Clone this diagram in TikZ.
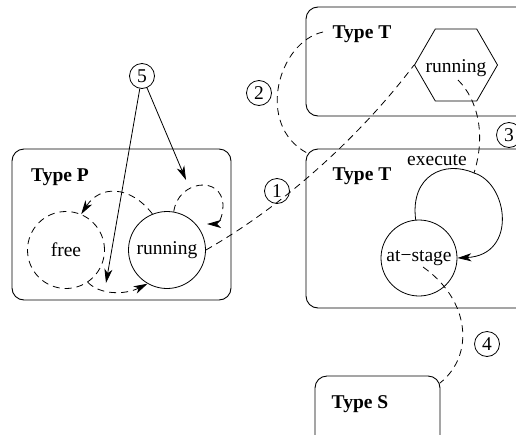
\documentclass[tikz,border=0pt]{standalone}
\usepackage{fontspec}
\setmainfont{Liberation Serif}
\usetikzlibrary{arrows.meta,shapes.geometric}
\begin{document}
\begin{tikzpicture}[x=1pt,y=-1pt,
  every node/.style={font=\fontsize{19.5}{23}\selectfont},
  box/.style={draw, rectangle, rounded corners=12pt, line width=0.9pt, inner sep=0pt},
  title/.style={font=\fontsize{19.5}{23}\selectfont\bfseries, inner sep=0pt},
  state/.style={draw, circle, minimum size=77pt, inner sep=0pt, line width=0.8pt},
  ghost/.style={state, dash pattern=on 7pt off 5pt},
  flow/.style={dash pattern=on 7pt off 5pt, line width=0.8pt},
  link/.style={line width=0.8pt},
  tip/.style={-{Stealth[length=14pt,width=8pt,inset=4pt]}},
  num/.style={draw, circle, minimum size=25pt, inner sep=0pt, line width=0.8pt}
]
\useasboundingbox (0,0) rectangle (516,434);
\clip (0,0) rectangle (516,434);

% containers
\node[box, minimum width=219pt, minimum height=151pt] (boxP) at (121.5,224.5) {};
\node[box, minimum width=234pt, minimum height=109pt] (boxT1) at (423,61.5) {};
\node[box, minimum width=234pt, minimum height=159pt] (boxT2) at (423,228.5) {};
\node[box, minimum width=125pt, minimum height=94pt] (boxS) at (377.5,423) {};

\node[title] (lblP) at (60,177) {Type P};
\node[title] (lblT1) at (362,34) {Type T};
\node[title] (lblT2) at (362,176) {Type T};
\node[title] (lblS) at (360,404) {Type S};

% states
\node[ghost] (free) at (66,250) {free};
\node[state] (runP) at (167,250) {running};
\node[draw, regular polygon, regular polygon sides=6, minimum size=83pt,
      inner sep=0pt, line width=0.8pt] (hexrun) at (456,65) {};
\node[inner sep=0pt] (hextxt) at (456,68) {running};
\node[state, minimum size=76pt] (at) at (419,258) {at\textminus stage};
\node[inner sep=0pt] (exec) at (437,160) {execute};

% step markers
\node[num] (n1) at (277,191) {1};
\node[num] (n2) at (259,93) {2};
\node[num] (n3) at (509,135) {3};
\node[num] (n4) at (487,344) {4};
\node[num] (n5) at (142,76) {5};

% free ends and waypoints
\coordinate (exectop) at (474,173);
\coordinate (hexin) at (458,80);
\coordinate (drop) at (106,283);
\coordinate (poke) at (186,180);
\coordinate (t1mark) at (323,32);
\coordinate (t2corner) at (307,153);
\coordinate (scorner) at (440,383);
\coordinate (atin) at (423,267);

% the execute self-loop
\draw[link, tip] (at.95) .. controls (410,175) and (445,160) .. (exectop)
  .. controls (508,183) and (518,255) .. (at.east);

% dashed transitions inside Type P
\draw[flow, tip] (runP.112) .. controls (130,185) and (100,185) .. (free.67);
\draw[flow, tip] (runP.80) .. controls (178,180) and (222,175) .. (223,205)
  .. controls (223,218) and (218,224) .. (207,224);
\draw[flow, tip] (free.304) .. controls (100,295) and (125,295) .. (runP.240);

% numbered relations
\draw[flow] (runP.east) .. controls (290,202) and (365,130) .. (hexrun.180);
\draw[flow] (t1mark) .. controls (278,42) and (255,125) .. (t2corner);
\draw[flow] (hexin) .. controls (478,100) and (486,135) .. (exectop);
\draw[flow] (atin) .. controls (470,300) and (475,355) .. (scorner);
\draw[link, tip] (n5) -- (drop);
\draw[link, tip] (n5) -- (poke);
\end{tikzpicture}
\end{document}
